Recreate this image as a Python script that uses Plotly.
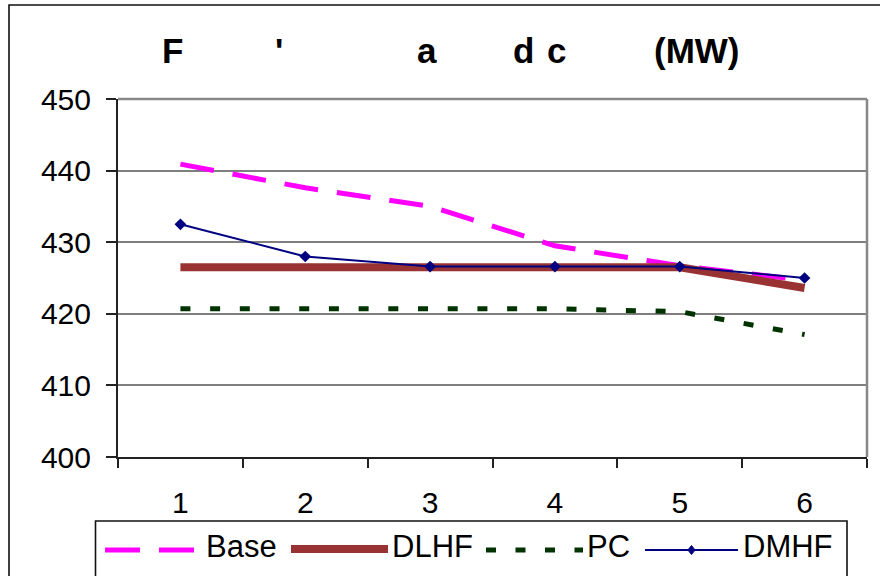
import plotly.graph_objects as go

# ---------------- data ----------------
categories = ["1", "2", "3", "4", "5", "6"]
series_names = ["Base", "DLHF", "PC", "DMHF"]
base_vals = [440.9, 437.6, 435.0, 429.5, 426.7, 424.7]
dlhf_vals = [426.5, 426.5, 426.5, 426.5, 426.5, 423.6]
pc_vals = [420.7, 420.7, 420.7, 420.7, 420.3, 417.1]
dmhf_vals = [432.5, 428.0, 426.6, 426.6, 426.6, 425.0]
y_ticks = [400, 410, 420, 430, 440, 450]
title_parts = ["F", "'", "a", "d", "c", "(MW)"]

# ---------------- geometry ----------------
FW, FH = 880, 576
L, R, T, B = 118, 13, 99, 119
PW, PH = FW - L - R, FH - T - B


def px(x):
    return (x - L) / PW


def py(y):
    return (T + PH - y) / PH


FONT = "Liberation Sans, Arial, sans-serif"

fig = go.Figure()
fig.add_trace(go.Scatter(x=categories, y=base_vals, name=series_names[0], mode="lines",
                         line=dict(color="#FF00FF", width=5, dash="34px,19px")))
fig.add_trace(go.Scatter(x=categories, y=dlhf_vals, name=series_names[1], mode="lines",
                         line=dict(color="#993333", width=8)))
fig.add_trace(go.Scatter(x=categories, y=pc_vals, name=series_names[2], mode="lines",
                         line=dict(color="#003300", width=5, dash="10px,19.7px")))
fig.add_trace(go.Scatter(x=categories, y=dmhf_vals, name=series_names[3], mode="lines+markers",
                         line=dict(color="#000080", width=2),
                         marker=dict(symbol="diamond", size=9, color="#000080")))

shapes = []
# outer chart border (extends past the window on right/bottom)
shapes.append(dict(type="rect", xref="paper", yref="paper",
                   x0=px(9), x1=px(FW + 20), y0=py(FH + 20), y1=py(5),
                   line=dict(color="#111111", width=1.6), layer="below"))
# plot area top/right border (gray)
shapes.append(dict(type="line", xref="paper", yref="paper", x0=0, x1=1, y0=1, y1=1,
                   line=dict(color="#888888", width=2.5)))
shapes.append(dict(type="line", xref="paper", yref="paper", x0=1, x1=1, y0=0, y1=1,
                   line=dict(color="#888888", width=2.5)))
# legend box
shapes.append(dict(type="rect", xref="paper", yref="paper",
                   x0=px(95.5), x1=px(847), y0=py(FH + 20), y1=py(521),
                   line=dict(color="#111111", width=1.6)))
# legend samples
ly = 550
shapes.append(dict(type="line", xref="paper", yref="paper", x0=px(105), x1=px(140), y0=py(ly), y1=py(ly),
                   line=dict(color="#FF00FF", width=5)))
shapes.append(dict(type="line", xref="paper", yref="paper", x0=px(159), x1=px(194), y0=py(ly), y1=py(ly),
                   line=dict(color="#FF00FF", width=5)))
shapes.append(dict(type="line", xref="paper", yref="paper", x0=px(291), x1=px(388), y0=py(549), y1=py(549),
                   line=dict(color="#993333", width=8)))
shapes.append(dict(type="line", xref="paper", yref="paper", x0=px(486), x1=px(583), y0=py(ly), y1=py(ly),
                   line=dict(color="#003300", width=5, dash="10px,19.5px")))
shapes.append(dict(type="line", xref="paper", yref="paper", x0=px(645), x1=px(738), y0=py(ly), y1=py(ly),
                   line=dict(color="#000080", width=2)))
cx, cy, d = 691.5, ly, 4.5
shapes.append(dict(type="path", xref="paper", yref="paper",
                   path=f"M{px(cx)},{py(cy - d)} L{px(cx + d * 0.8)},{py(cy)} L{px(cx)},{py(cy + d)} L{px(cx - d * 0.8)},{py(cy)} Z",
                   fillcolor="#000080", line=dict(color="#000080", width=1)))

annotations = []
legend_x = [205, 391, 586, 742]
for name, x in zip(series_names, legend_x):
    annotations.append(dict(text=name, xref="paper", yref="paper", x=px(x), y=py(546),
                            xanchor="left", yanchor="middle", showarrow=False, borderpad=0,
                            font=dict(family=FONT, size=31, color="#000000")))
title_x = [160.5, 273.5, 415.5, 511.7, 545.8, 652.6]
for part, x in zip(title_parts, title_x):
    annotations.append(dict(text=f"<b>{part}</b>", xref="paper", yref="paper", x=px(x), y=py(50.5),
                            xanchor="left", yanchor="middle", showarrow=False, borderpad=0,
                            font=dict(family=FONT, size=35, color="#000000")))

fig.update_layout(
    width=FW, height=FH, autosize=False,
    margin=dict(l=L, r=R, t=T, b=B, pad=0),
    paper_bgcolor="white", plot_bgcolor="white",
    showlegend=False,
    shapes=shapes, annotations=annotations,
    font=dict(family=FONT, color="#000000"),
    xaxis=dict(type="category", range=[-0.5, 5.5], tickson="boundaries",
               showgrid=False, zeroline=False,
               showline=True, linecolor="#222222", linewidth=2,
               ticks="outside", ticklen=9, tickwidth=1.5, tickcolor="#222222",
               tickfont=dict(family=FONT, size=30, color="#000000"),
               ticklabelstandoff=18),
    yaxis=dict(range=[400, 450], tickvals=y_ticks, ticktext=[str(v) for v in y_ticks],
               showgrid=True, gridcolor="#7f7f7f", gridwidth=1.5, zeroline=False,
               showline=True, linecolor="#222222", linewidth=2,
               ticks="outside", ticklen=10, tickwidth=1.5, tickcolor="#222222",
               tickfont=dict(family=FONT, size=30, color="#000000"),
               ticklabelstandoff=9),
)

fig.write_html("out.html")
